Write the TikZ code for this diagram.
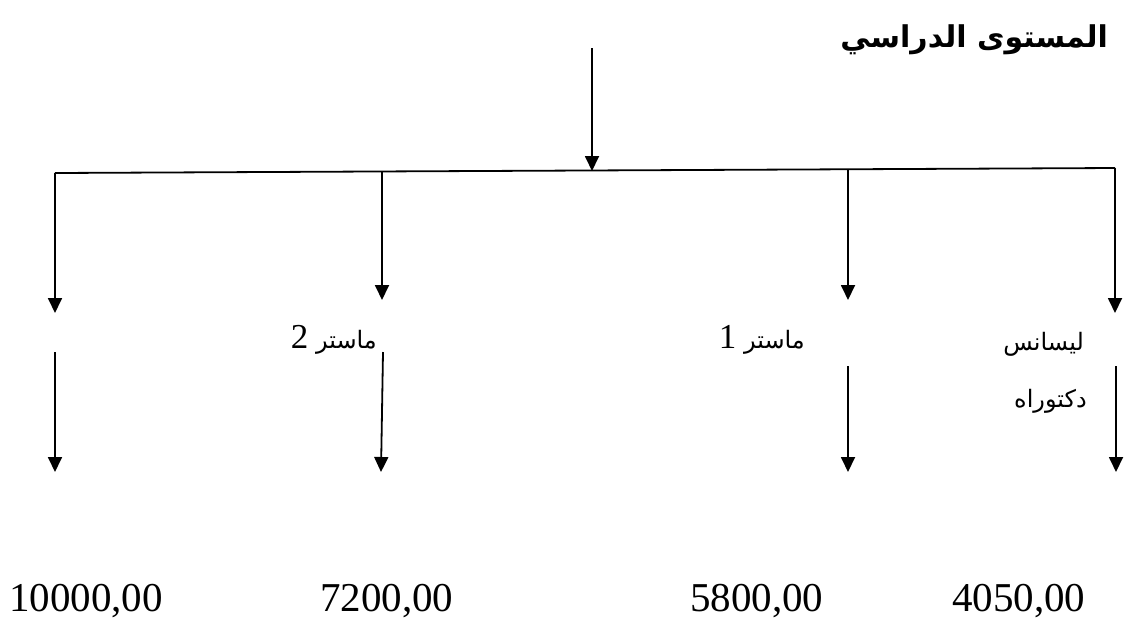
\documentclass[tikz,border=0pt]{standalone}
\usepackage{fontspec}
\setmainfont{Liberation Serif}
\newfontfamily\arabicfont[Script=Arabic]{DejaVu Sans}
\TeXXeTstate=1
\usetikzlibrary{arrows.meta}
\newcommand{\digitfont}{\rmfamily\fontsize{35}{38}\selectfont}
\begin{document}
\begin{tikzpicture}[x=1pt,y=-1pt,
  conn/.style={line width=1.8pt,-{Triangle[length=15pt,width=14pt]}},
  bar/.style={line width=1.8pt},
  lbl/.style={inner sep=0pt,font=\arabicfont\fontsize{24}{28}\selectfont},
  num/.style={inner sep=0pt,font=\fontsize{41}{45}\selectfont,anchor=west},
  ttl/.style={inner sep=0pt,font=\arabicfont\bfseries\fontsize{30}{35}\selectfont,anchor=east}]
\useasboundingbox (0,0) rectangle (1129,625);
% title
\node[ttl] (title) at (1108,40) {\beginR المستوى الدراسي\endR};
\coordinate (tstart) at (592,48);
\coordinate (hub) at (592,171);
\coordinate (hl) at (55,173);
\coordinate (hr) at (1115,168);
\draw[bar] (hl) -- (hr);
\draw[conn] (tstart) -- (hub);
% branch points
\coordinate (b1) at (55,173);
\coordinate (b2) at (382,172);
\coordinate (b3) at (848,170);
\coordinate (b4) at (1115,168);
\coordinate (e1) at (55,313);
\coordinate (e2) at (382,300);
\coordinate (e3) at (848,300);
\coordinate (e4) at (1115,313);
\draw[conn] (b1) -- (e1);
\draw[conn] (b2) -- (e2);
\draw[conn] (b3) -- (e3);
\draw[conn] (b4) -- (e4);
% labels
\node[lbl,anchor=east] (m2) at (377,340) {\beginR ماستر {\digitfont 2}\endR};
\node[lbl,anchor=east] (m1) at (805,340) {\beginR ماستر {\digitfont 1}\endR};
\node[lbl,anchor=east] (lic) at (1084,344) {\beginR ليسانس\endR};
\node[lbl,anchor=east] (doc) at (1087,401) {\beginR دكتوراه\endR};
% second arrows
\coordinate (s1) at (55,352);
\coordinate (s2) at (383,352);
\coordinate (s3) at (848,366);
\coordinate (s4) at (1116,366);
\coordinate (f1) at (55,472);
\coordinate (f2) at (381,472);
\coordinate (f3) at (848,472);
\coordinate (f4) at (1116,472);
\draw[conn] (s1) -- (f1);
\draw[conn] (s2) -- (f2);
\draw[conn] (s3) -- (f3);
\draw[conn] (s4) -- (f4);
% numbers
\node[num] (n1) at (9,601) {10000,00};
\node[num] (n2) at (320,601) {7200,00};
\node[num] (n3) at (690,601) {5800,00};
\node[num] (n4) at (952,601) {4050,00};
\end{tikzpicture}
\end{document}
